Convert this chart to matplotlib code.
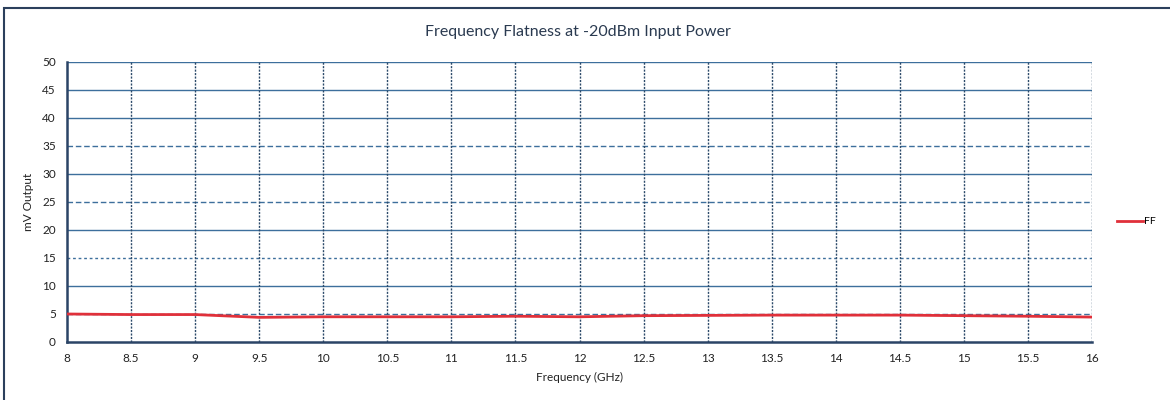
import matplotlib
matplotlib.use("Agg")
import matplotlib.pyplot as plt
from matplotlib.patches import Rectangle

freq = [8, 8.5, 9, 9.5, 10, 10.5, 11, 11.5, 12, 12.5, 13, 13.5, 14, 14.5, 15, 15.5, 16]
ff_mv = [5.0, 4.9, 4.9, 4.4, 4.5, 4.5, 4.5, 4.6, 4.5, 4.7, 4.75, 4.8, 4.8, 4.8, 4.7, 4.6, 4.45]
x_ticks = [8, 8.5, 9, 9.5, 10, 10.5, 11, 11.5, 12, 12.5, 13, 13.5, 14, 14.5, 15, 15.5, 16]
y_ticks = [0, 5, 10, 15, 20, 25, 30, 35, 40, 45, 50]

plt.rcParams['font.family'] = ['Lato', 'DejaVu Sans']

W, H = 1170, 400
fig = plt.figure(figsize=(W / 100, H / 100), dpi=100)
fig.patch.set_facecolor('white')

# outer chart frame
fig.patches.append(Rectangle((4 / W, -0.05), 1.2, (H - 8) / H + 0.05, transform=fig.transFigure,
                             fill=False, edgecolor='#2b3f5c', linewidth=1.5))

left, right, top, bottom = 67, 1092, 62, 342
ax = fig.add_axes([left / W, 1 - bottom / H, (right - left) / W, (bottom - top) / H])

grid_col = '#3d6f9c'
vgrid_col = '#2c4a6a'
ax.set_xlim(8, 16)
ax.set_ylim(0, 50)

styles = {5: (0, (4, 2)), 15: (0, (2, 2)), 25: (0, (4, 2)), 35: (0, (4, 2))}
for y in y_ticks[1:]:
    ax.axhline(y, color=grid_col, lw=1.0, ls=styles.get(y, '-'), zorder=1)
for x in x_ticks[1:]:
    ax.axvline(x, color=vgrid_col, lw=1.0, ls=(0, (1.5, 1)), zorder=1)

ax.plot(freq, ff_mv, color='#e0303a', lw=2.0, label='FF', zorder=3)

ax.set_xticks(x_ticks)
ax.set_xticklabels([f"{v:g}" for v in x_ticks])
ax.set_yticks(y_ticks)
ax.tick_params(axis='both', length=0, labelsize=8.5, colors='#222222', pad=8)
for s in ['left', 'bottom']:
    ax.spines[s].set_color('#2b4466')
    ax.spines[s].set_linewidth(1.8)
for s in ['top', 'right']:
    ax.spines[s].set_visible(False)

ax.set_xlabel('Frequency (GHz)', fontsize=8.5, color='#222222', labelpad=6)
ax.set_ylabel('mV Output', fontsize=8.5, color='#222222', labelpad=6)
fig.text(578 / W, 1 - 32 / H, 'Frequency Flatness at -20dBm Input Power', ha='center', va='center',
         fontsize=11.5, color='#2a3a50')

ax.legend(loc='center left', bbox_to_anchor=(1.015, 0.43), frameon=False, fontsize=7.5,
          handlelength=2.5, handletextpad=0.1)

fig.savefig('out.png', dpi=100)
